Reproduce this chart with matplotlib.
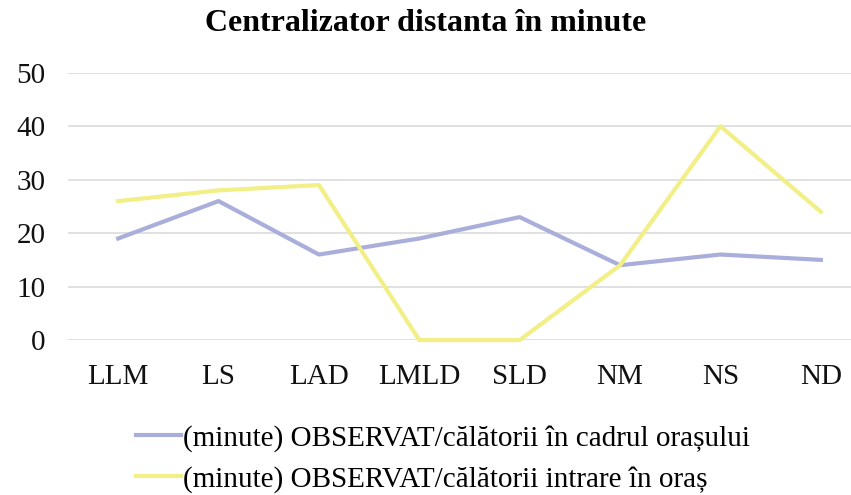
import matplotlib.pyplot as plt

plt.rcParams['font.family'] = ['Liberation Serif', 'DejaVu Serif']

# date
categorii = ['LLM', 'LS', 'LAD', 'LMLD', 'SLD', 'NM', 'NS', 'ND']
in_oras = [19, 26, 16, 19, 23, 14, 16, 15]
intrare_oras = [26, 28, 29, 0, 0, 14, 40, 24]
eticheta_1 = '(minute) OBSERVAT/călătorii în cadrul orașului'
eticheta_2 = '(minute) OBSERVAT/călătorii intrare în oraș'

fig = plt.figure(figsize=(8.51, 4.95), dpi=100)
ax = fig.add_axes([68 / 851, 0.313, 803 / 851, 0.54])

x = range(len(categorii))
l1, = ax.plot(x, in_oras, color='#a9aedb', lw=3, clip_on=False)
l2, = ax.plot(x, intrare_oras, color='#f2ef86', lw=3, clip_on=False)

ax.set_xlim(-0.5, len(categorii) - 0.5)
ax.set_ylim(0, 50)
ax.set_yticks(range(0, 51, 10))
ax.set_xticks(list(x))
ax.set_xticklabels(categorii)
ax.grid(axis='y', color='#dcdcdc', lw=1.2)
ax.set_axisbelow(True)
for s in ax.spines.values():
    s.set_visible(False)
ax.tick_params(length=0, labelsize=21, colors='#111111')
ax.tick_params(axis='x', pad=17)
ax.tick_params(axis='y', pad=16)

fig.text(0.5, 0.953, 'Centralizator distanta în minute', ha='center', va='center',
         fontsize=23, fontweight='bold')

fig.legend([l1, l2], [eticheta_1, eticheta_2], loc='upper left',
           bbox_to_anchor=(124 / 851, 0.165), frameon=False,
           fontsize=21, handlelength=1.55, handletextpad=0.08, labelspacing=0.48,
           borderaxespad=0)

fig.savefig('out.png', dpi=100)
